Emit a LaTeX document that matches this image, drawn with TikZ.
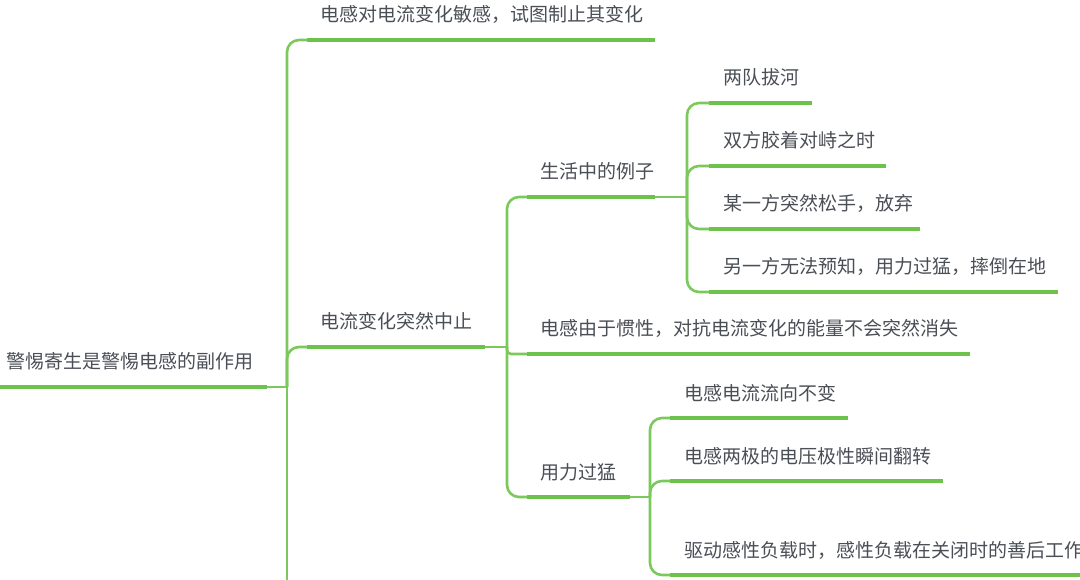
\documentclass[tikz,border=0pt]{standalone}
\usepackage{fontspec}
\newfontfamily\cjk{Noto Sans CJK SC}
\usetikzlibrary{positioning}
\definecolor{mapgreen}{HTML}{6CC24A}
\definecolor{ink}{HTML}{4A4E55}

\begin{document}
\begin{tikzpicture}[x=1pt, y=-1pt,
    under/.style={draw=mapgreen, line width=3.8pt},
    link/.style={draw=mapgreen!90, line width=2.6pt, rounded corners=12pt},
    topic/.style={anchor=base west, inner sep=0pt, xshift=13pt, yshift=18pt,
                  text=ink, font=\cjk\fontsize{19}{23}\selectfont}]

  \useasboundingbox (0,0) rectangle (1080,580);

  % root
  \draw[under] (0,387) coordinate (root-l)
        node[topic, xshift=-8pt] (root) {警惕寄生是警惕电感的副作用}
        -- (267,387) coordinate (root-r);

  % first level
  \draw[under] (307,40) coordinate (sens-l)
        node[topic, xshift=-1pt] (sens) {电感对电流变化敏感，试图制止其变化}
        -- (655,40) coordinate (sens-r);
  \draw[under] (307,347) coordinate (stop-l)
        node[topic, xshift=-1pt] (stop) {电流变化突然中止}
        -- (485,347) coordinate (stop-r);

  \draw[link] (root-r) -- (287,387) coordinate (j0);
  \draw[link] (j0) |- (sens-l);
  \draw[link] (j0) |- (stop-l);
  \draw[link] (j0) -- (287,600) coordinate (more);

  % under "stop"
  \draw[under] (527,197) coordinate (life-l)
        node[topic, xshift=-1pt] (life) {生活中的例子}
        -- (655,197) coordinate (life-r);
  \draw[under] (527,354) coordinate (inert-l)
        node[topic, xshift=-1pt] (inert) {电感由于惯性，对抗电流变化的能量不会突然消失}
        -- (970,354) coordinate (inert-r);
  \draw[under] (527,497) coordinate (hard-l)
        node[topic, xshift=-1pt] (hard) {用力过猛}
        -- (630,497) coordinate (hard-r);

  \draw[link] (stop-r) -- (507,347) coordinate (j1);
  \draw[link] (j1) |- (life-l);
  \draw[link, rounded corners=4pt] (j1) |- (inert-l);
  \draw[link] (j1) |- (hard-l);

  % examples from life
  \draw[under] (709,103) coordinate (tug-l)
        node[topic] (tug) {两队拔河}
        -- (812,103) coordinate (tug-r);
  \draw[under] (709,166) coordinate (hold-l)
        node[topic] (hold) {双方胶着对峙之时}
        -- (886,166) coordinate (hold-r);
  \draw[under] (709,229) coordinate (drop-l)
        node[topic] (drop) {某一方突然松手，放弃}
        -- (920,229) coordinate (drop-r);
  \draw[under] (709,292) coordinate (fall-l)
        node[topic] (fall) {另一方无法预知，用力过猛，摔倒在地}
        -- (1058,292) coordinate (fall-r);

  \draw[link] (life-r) -- (687,197) coordinate (j2);
  \draw[link] (j2) |- (tug-l);
  \draw[link] (j2) |- (hold-l);
  \draw[link] (j2) |- (drop-l);
  \draw[link] (j2) |- (fall-l);

  % too much force
  \draw[under] (670,418) coordinate (dir-l)
        node[topic] (dir) {电感电流流向不变}
        -- (848,418) coordinate (dir-r);
  \draw[under] (670,481) coordinate (flip-l)
        node[topic] (flip) {电感两极的电压极性瞬间翻转}
        -- (943,481) coordinate (flip-r);
  \draw[under] (670,575) coordinate (load-l)
        node[topic] (load) {驱动感性负载时，感性负载在关闭时的善后工作}
        -- (1090,575) coordinate (load-r);

  \draw[link] (hard-r) -- (650,497) coordinate (j3);
  \draw[link] (j3) |- (dir-l);
  \draw[link] (j3) |- (flip-l);
  \draw[link] (j3) |- (load-l);
\end{tikzpicture}
\end{document}
